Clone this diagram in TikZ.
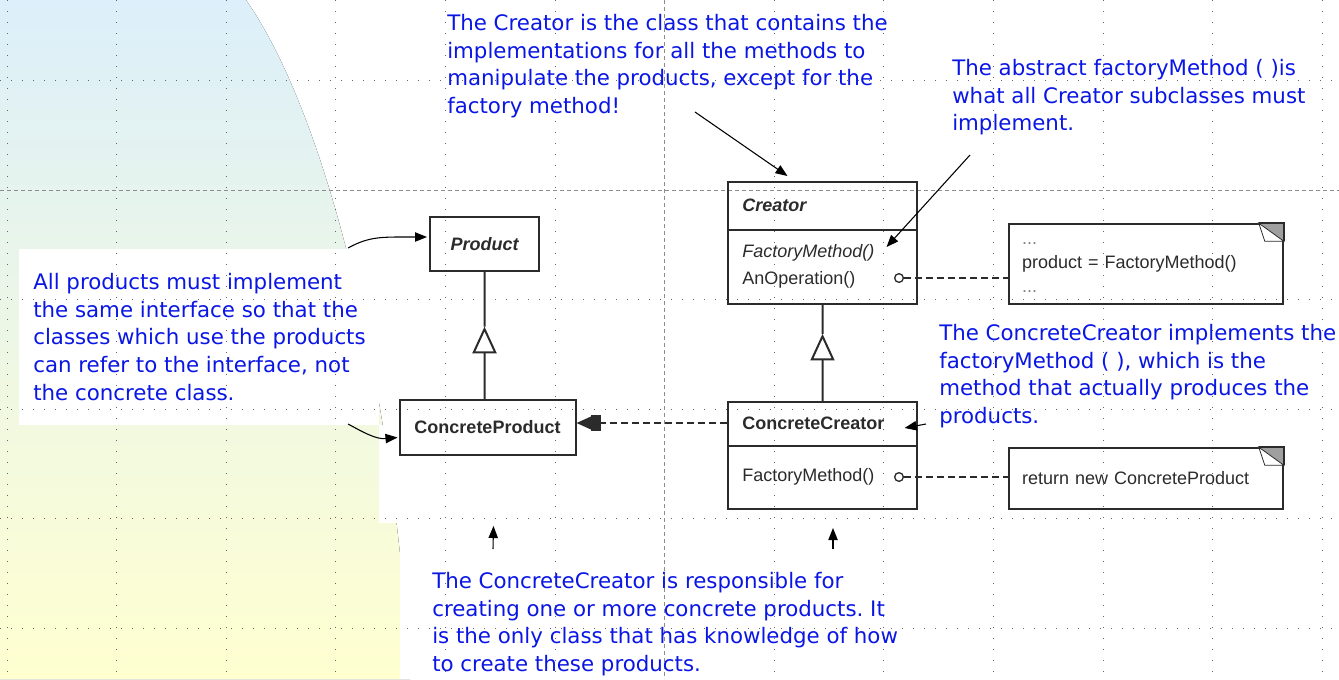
\documentclass[tikz,border=0pt]{standalone}
\usepackage{fontspec}
\usepackage{tikz}
\usetikzlibrary{arrows.meta, positioning, calc}
\newfontfamily\remarkfont{DejaVu Sans}
\newfontfamily\umlfont{Liberation Sans}
\definecolor{RemarkBlue}{RGB}{10,22,228}
\definecolor{InkGray}{HTML}{2B2B2B}
\definecolor{SkyTop}{RGB}{220,239,250}
\definecolor{SandBottom}{RGB}{255,255,208}
\newcommand{\umlsize}{\umlfont\fontsize{13.5}{18}\selectfont}
\frenchspacing
\tikzset{
  umlbox/.style={draw=InkGray, line width=1.5pt, inner sep=0pt, text=InkGray, font=\umlsize},
  umltext/.style={anchor=west, inner sep=0pt, text=InkGray, font=\umlsize},
  opdot/.style={circle, draw=InkGray, line width=1pt, fill=white, minimum size=6.5pt, inner sep=0pt},
  memo/.style={draw=InkGray, line width=1.2pt, inner xsep=9.75pt, inner ysep=0pt, align=left,
               text width=186pt, minimum width=205.5pt, text=InkGray, font=\umlsize},
  remark/.style={anchor=north west, inner sep=0pt, align=left, text=RemarkBlue,
                 font=\remarkfont\fontsize{16}{20.8}\selectfont},
  pointer/.style={line width=0.8pt, -{Triangle[length=9pt,width=7pt]}},
  umlline/.style={draw=InkGray, line width=1.5pt},
  depline/.style={draw=InkGray, line width=1.5pt, dash pattern=on 5.25pt off 3pt},
  griddots/.style={black!60, line width=0.75pt, dash pattern=on 0.75pt off 7.5pt},
  guide/.style={black!45, line width=0.75pt, dash pattern=on 3pt off 2.25pt}
}

\begin{document}
\begin{tikzpicture}[x=0.75pt, y=-0.75pt]
    \useasboundingbox (0,0) rectangle (1339,679);

    % slide background
    \fill[top color=SkyTop, bottom color=SandBottom]
        (0,0) -- (246,0) .. controls (330,120) and (395,400) .. (410,679) -- (0,679) -- cycle;
    \fill[white] (19,249) rectangle (379,425);
    \fill[white] (379,425) rectangle (460,523);
    \fill[white] (400,523) rectangle (460,679);

    % dotted grid
    \foreach \k in {0,1,2,3,4,5,7,8,9,10,11,12}
        \draw[griddots] (7+109.6*\k,0) -- (7+109.6*\k,679);
    \foreach \k in {0,2,3,4,5}
        \draw[griddots] (0,80.5+109.6*\k) -- (1339,80.5+109.6*\k);
    \draw[guide] (664.6,0) -- (664.6,679);
    \draw[guide] (0,190) -- (1339,190);

    % product side
    \node[umlbox, minimum width=81.75pt, minimum height=40.5pt, font=\umlsize\bfseries\itshape]
        (product) at (484.5,244) {Product};
    \node[umlbox, minimum width=132pt, minimum height=41.25pt, font=\umlsize\bfseries]
        (cproduct) at (487.5,427.5) {ConcreteProduct};

    % creator side
    \node[umlbox, minimum width=141.75pt, minimum height=91.5pt] (creator) at (822.5,243) {};
    \draw[umlline] ($(creator.north west)+(0,49)$) -- ($(creator.north east)+(0,49)$);
    \node[umltext, font=\umlsize\bfseries\itshape] (creatorname) at (742,205) {Creator};
    \node[umltext, font=\umlsize\itshape] (factoryabs) at (742,253) {FactoryMethod()};
    \node[umltext] (anop) at (742,280) {AnOperation()};
    \node[opdot] (anopdot) at (899,278) {};

    \node[umlbox, minimum width=141.75pt, minimum height=80.25pt] (ccreator) at (822.5,455.5) {};
    \draw[umlline] ($(ccreator.north west)+(0,45)$) -- ($(ccreator.north east)+(0,45)$);
    \node[umltext, font=\umlsize\bfseries] (ccname) at (742,423) {ConcreteCreator};
    \node[umltext] (factoryimpl) at (742,477) {FactoryMethod()};
    \node[opdot] (implydot) at (899,477) {};

    % notes with folded corner
    \node[memo, minimum height=60pt] (opnote) at (1146,264)
        {{\color{gray}...}\strut\\product = FactoryMethod()\strut\\{\color{gray}...}\strut};
    \node[memo, minimum height=45.75pt] (retnote) at (1146,478.5) {return new ConcreteProduct};
    \foreach \n in {opnote,retnote} {
        \fill[gray!75] (\n.north east) -- ++(-25,0) -- ++(25,18) -- cycle;
        \filldraw[fill=white, draw=InkGray, line width=0.6pt]
            ($(\n.north east)+(-25,0)$) -- ($(\n.north east)+(0,18)$) -- ($(\n.north east)+(-19,18)$) -- cycle;
        \draw[InkGray, line width=1.2pt] ($(\n.north east)+(-25,0)$) -- (\n.north east) -- ++(0,18);
    }

    % generalisations
    \coordinate (prodtip) at ($(product.south)!0.43!(product.south |- cproduct.north)$);
    \draw[umlline, -{Triangle[open, length=20pt, width=18pt]}] (cproduct.north -| product.south) -- (prodtip);
    \draw[umlline] (prodtip) -- (product.south);
    \coordinate (cretip) at ($(creator.south)!0.3!(ccreator.north)$);
    \draw[umlline, -{Triangle[open, length=20pt, width=18pt]}] (ccreator.north) -- (cretip);
    \draw[umlline] (cretip) -- (creator.south);

    % dependency and note links
    \draw[depline, -{Rectangle[length=7pt,width=12pt] Triangle[length=11pt,width=9.5pt]}]
        (ccreator.west |- ccname) -- (cproduct.east |- ccname);
    \draw[depline] (anopdot.east) -- (anopdot.east -| opnote.west);
    \draw[depline] (implydot.east) -- (implydot.east -| retnote.west);

    % remarks
    \node[remark] (creatornote) at (447,14) {The Creator is the class that contains the\\implementations for all the methods to\\manipulate the products, except for the\\factory method!};
    \node[remark] (abstractnote) at (952,59) {The abstract factoryMethod ( )is\\what all Creator subclasses must\\implement.};
    \node[remark] (productnote) at (33,273) {All products must implement\\the same interface so that the\\classes which use the products\\can refer to the interface, not\\the concrete class.};
    \node[remark] (implnote) at (939,324) {The ConcreteCreator implements the\\factoryMethod ( ), which is the\\method that actually produces the\\products.};
    \node[remark] (ccnote) at (432,572) {The ConcreteCreator is responsible for\\creating one or more concrete products. It\\is the only class that has knowledge of how\\to create these products.};

    % remark pointers
    \coordinate (fromcreator) at (695,112);
    \draw[pointer] (fromcreator) -- ([shift={(-35,-5)}]creator.north);
    \coordinate (fromabstract) at (970,155);
    \draw[pointer] (fromabstract) -- ([shift={(12,-6)}]factoryabs.east);
    \coordinate (toproduct) at (348,248);
    \draw[pointer] (toproduct) .. controls +(22,-12) and +(-45,0) .. ([shift={(-2,-7)}]product.west);
    \coordinate (tocproduct) at (348,424);
    \draw[pointer] (tocproduct) .. controls +(15,8) and +(-22,2) .. ([shift={(-1,10)}]cproduct.west);
    \coordinate (fromimpl) at (926,424);
    \draw[pointer] (fromimpl) -- ([shift={(20,5)}]ccname.east);
    \coordinate (upleft) at (493,549);
    \draw[pointer] (upleft) -- ([shift={(6,70)}]cproduct.south);
    \coordinate (upright) at (833,549);
    \draw[pointer] (upright) -- ([shift={(10.5,18)}]ccreator.south);
\end{tikzpicture}
\end{document}
